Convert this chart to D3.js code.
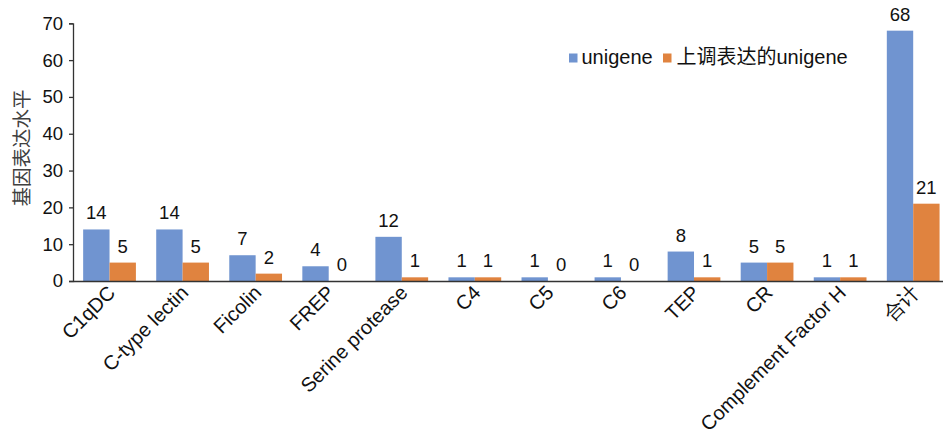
<!DOCTYPE html>
<html>
<head>
<meta charset="utf-8">
<script src="https://cdn.jsdelivr.net/npm/d3@7"></script>
<style>
  body { margin: 0; background: #fff; }
  svg { display: block; font-family: "Liberation Sans", Arial, "Noto Sans CJK SC", sans-serif; }
</style>
</head>
<body>
<svg id="chart" width="943" height="438"></svg>
<script>
const categories = ["C1qDC", "C-type lectin", "Ficolin", "FREP", "Serine protease", "C4", "C5", "C6", "TEP", "CR", "Complement Factor H", "合计"];
const unigene = [14, 14, 7, 4, 12, 1, 1, 1, 8, 5, 1, 68];
const upUnigene = [5, 5, 2, 0, 1, 1, 0, 0, 1, 5, 1, 21];
const seriesNames = ["unigene", "上调表达的unigene"];
const yTicks = [0, 10, 20, 30, 40, 50, 60, 70];

const COLORS = ["#7094d0", "#e0833f"];
const MARGIN = { left: 73, top: 23.3, bottom: 281 };

const svg = d3.select("#chart");

const data = categories.map((c, i) => ({ cat: c, values: [unigene[i], upUnigene[i]] }));

const x = d3.scaleBand()
  .domain(categories)
  .range([MARGIN.left, MARGIN.left + 12 * 73.06])
  .paddingInner(0.278)
  .paddingOuter(0.139);

const xInner = d3.scaleBand()
  .domain([0, 1])
  .range([0, x.bandwidth()]);

const y = d3.scaleLinear()
  .domain([0, 70])
  .range([MARGIN.bottom, MARGIN.top]);

// y axis
const yAxis = svg.append("g")
  .attr("transform", `translate(${MARGIN.left},0)`)
  .call(d3.axisLeft(y).tickValues(yTicks).tickSize(4).tickPadding(6));
yAxis.select(".domain").attr("stroke", "#333").attr("stroke-width", 1.3);
yAxis.selectAll(".tick line").attr("stroke", "#333").attr("stroke-width", 1.3);
yAxis.selectAll(".tick text").attr("font-size", 18.5).attr("fill", "#111")
  .attr("font-family", "'Liberation Sans', Arial, sans-serif");

// bars
const groups = svg.append("g")
  .selectAll("g")
  .data(data)
  .join("g")
  .attr("transform", d => `translate(${x(d.cat)},0)`);

groups.selectAll("rect")
  .data(d => d.values.map((v, i) => ({ v, i })))
  .join("rect")
  .attr("x", d => xInner(d.i))
  .attr("width", xInner.bandwidth())
  .attr("y", d => y(d.v))
  .attr("height", d => y(0) - y(d.v))
  .attr("fill", d => COLORS[d.i]);

groups.selectAll("text")
  .data(d => d.values.map((v, i) => ({ v, i })))
  .join("text")
  .attr("x", d => xInner(d.i) + xInner.bandwidth() / 2)
  .attr("y", d => y(d.v) - 10)
  .attr("text-anchor", "middle")
  .attr("font-size", 18.5)
  .attr("fill", "#111")
  .text(d => d.v);

// x axis line
const xAxis = svg.append("g")
  .attr("transform", `translate(0,${MARGIN.bottom})`)
  .call(d3.axisBottom(x).tickSize(0).tickPadding(0));
xAxis.select(".domain").attr("stroke", "#333").attr("stroke-width", 1.3);
xAxis.selectAll(".tick text")
  .attr("font-size", 20)
  .attr("fill", "#111")
  .attr("text-anchor", "end")
  .attr("dy", 0)
  .attr("transform", "translate(7,13) rotate(-45)");

// y axis title
svg.append("text")
  .attr("transform", "translate(29,148) rotate(-90)")
  .attr("text-anchor", "middle")
  .attr("font-size", 19.5)
  .attr("fill", "#404040")
  .attr("font-family", "'Noto Sans CJK SC', sans-serif")
  .text("基因表达水平");

// legend
const legend = svg.append("g");
const legendItems = [{ x: 569, tx: 581.5 }, { x: 663, tx: 676.5 }];
seriesNames.forEach((name, i) => {
  legend.append("rect")
    .attr("x", legendItems[i].x).attr("y", 53.5)
    .attr("width", 8.5).attr("height", 9)
    .attr("fill", COLORS[i]);
  legend.append("text")
    .attr("x", legendItems[i].tx).attr("y", 64)
    .attr("font-size", 20)
    .attr("fill", "#111")
    .text(name);
});
</script>
</body>
</html>
